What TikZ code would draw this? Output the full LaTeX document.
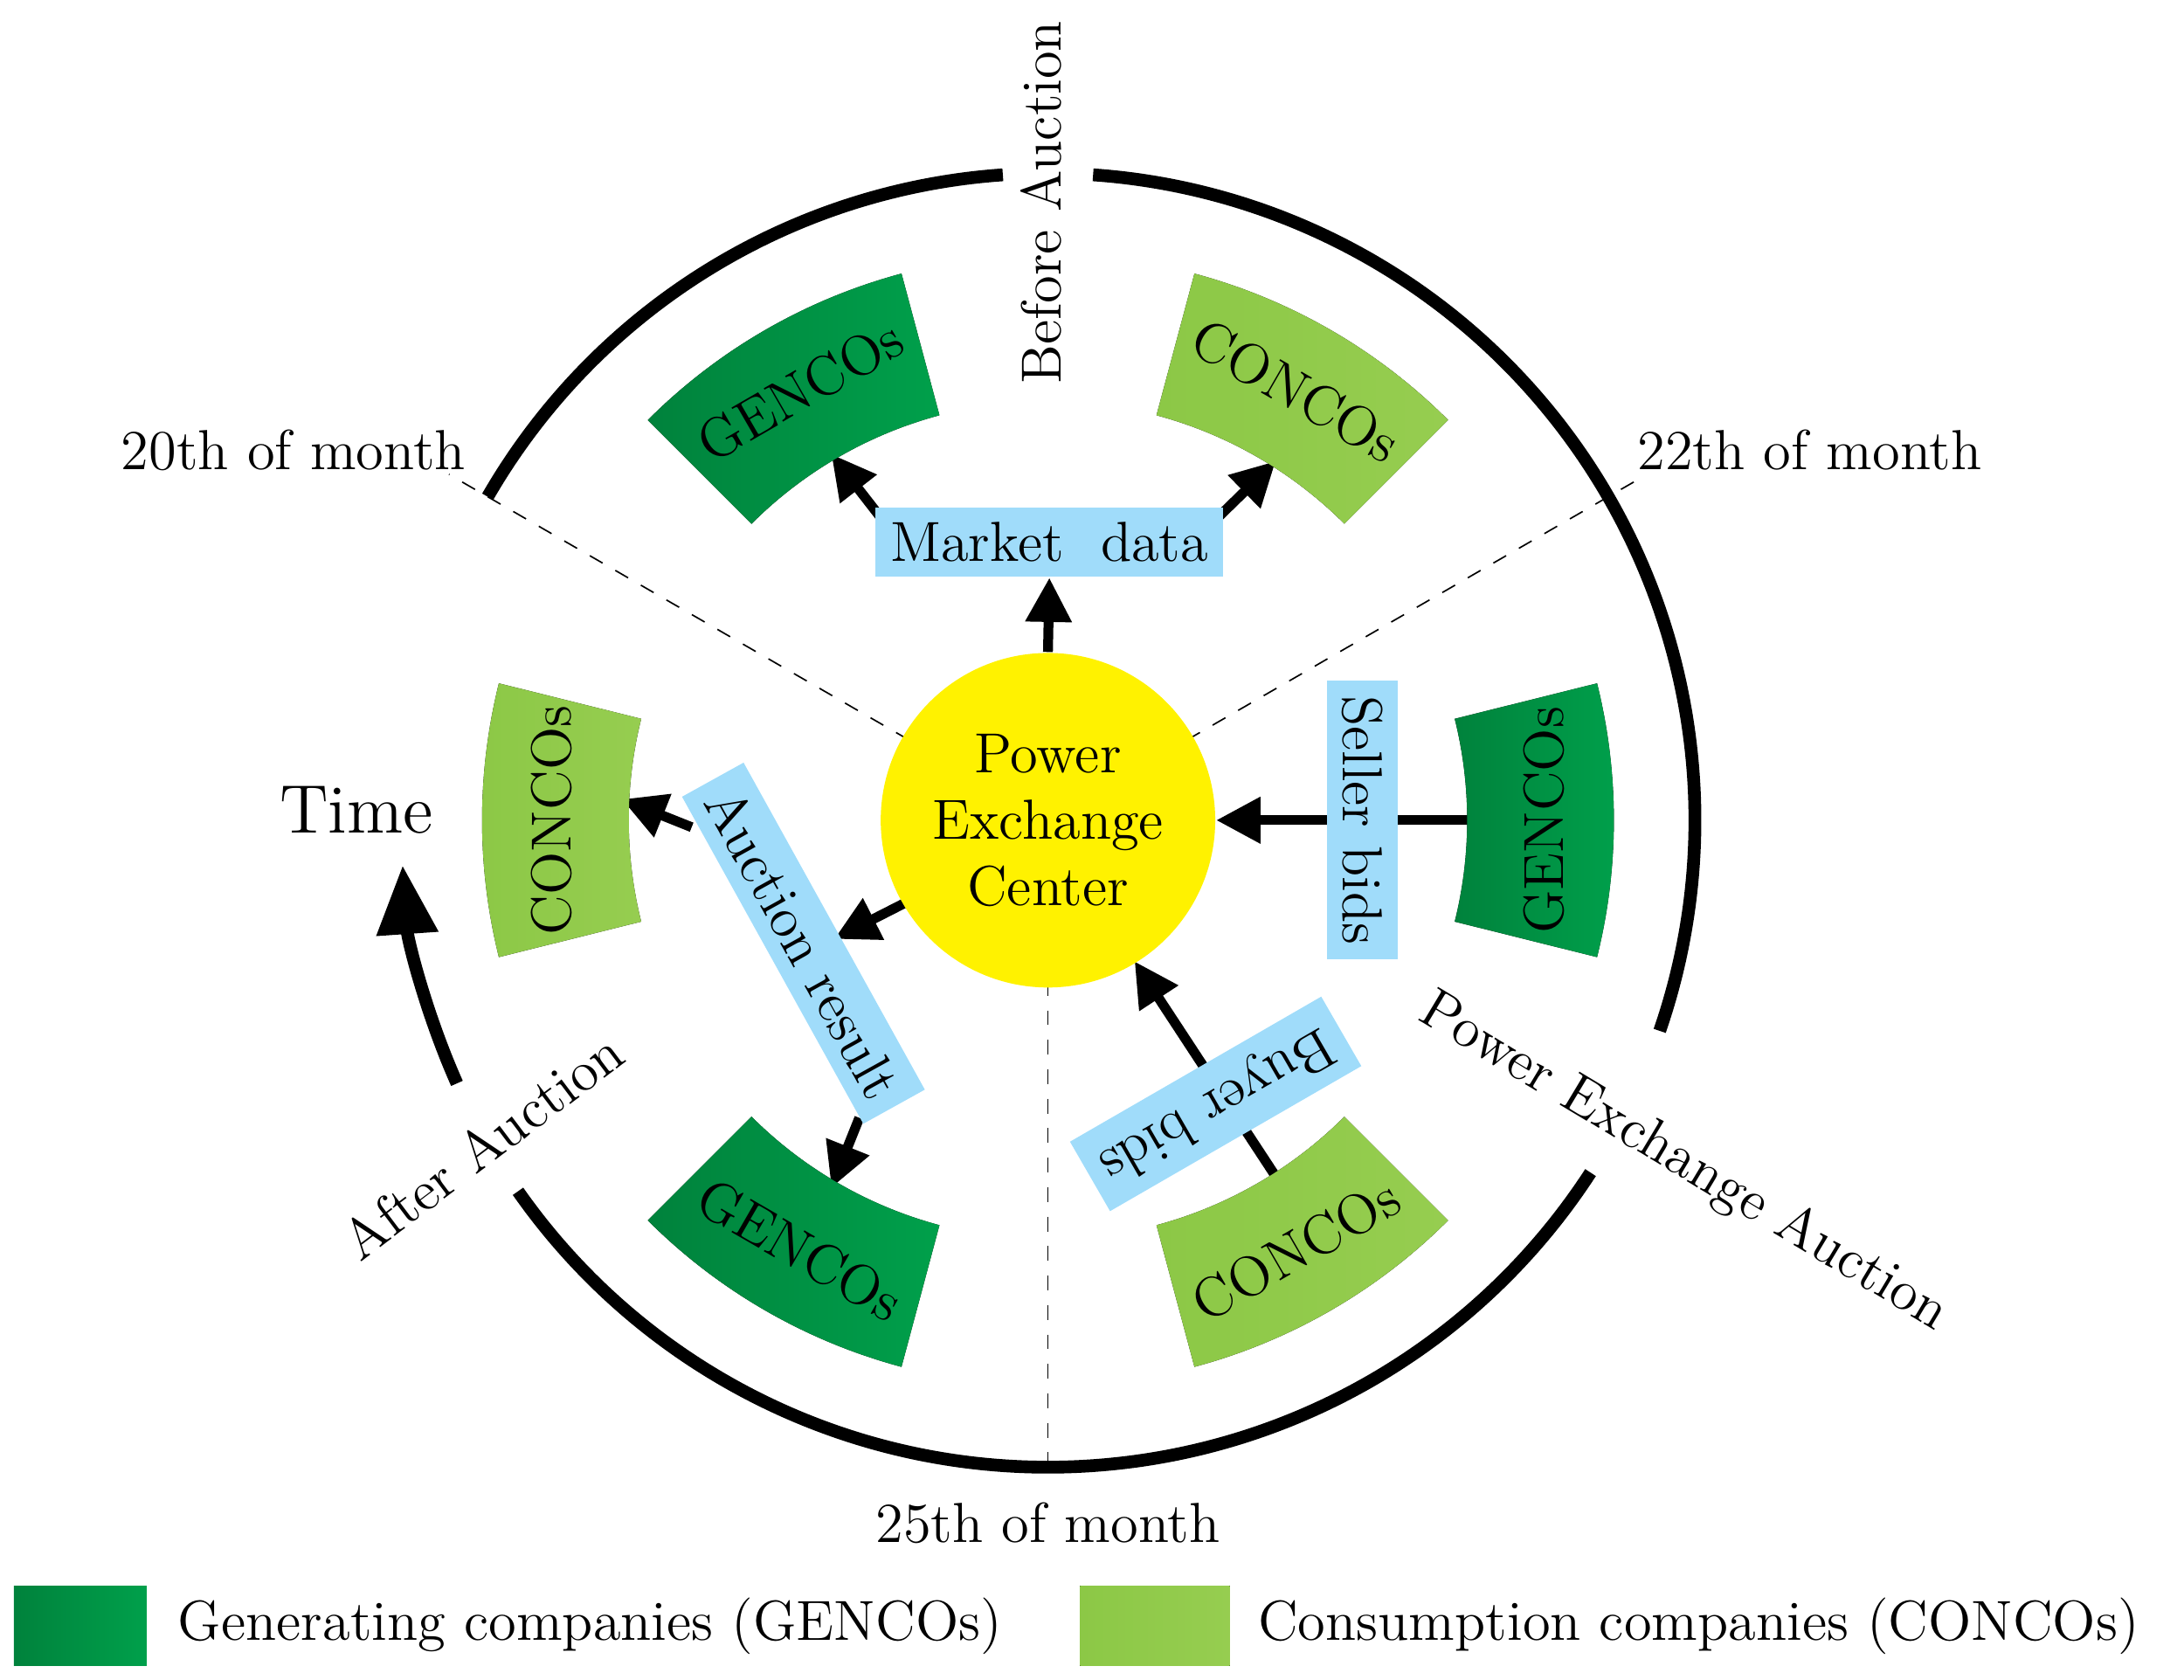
\documentclass[tikz,border=0pt]{standalone}
\usepackage{tikz}
\usetikzlibrary{positioning,arrows.meta,backgrounds}
\definecolor{gencol}{RGB}{0,160,75}
\definecolor{gendark}{RGB}{0,130,60}
\definecolor{concol}{RGB}{140,200,70}
\definecolor{conlight}{RGB}{150,205,80}
\definecolor{boxblue}{RGB}{160,220,250}
\tikzset{
  arr/.style={line width=2pt, -{Triangle[length=9pt,width=9pt]}},
  lbl/.style={font=\fontsize{11.5}{13.5}\selectfont},
  msg/.style={fill=boxblue, inner sep=3pt, font=\fontsize{11.5}{13.5}\selectfont},
  gen/.style={left color=gendark, right color=gencol},
  con/.style={left color=concol, right color=conlight},
  ring/.style={line width=2.6pt},
  divider/.style={dashed, line width=0.3pt},
}
% annular sector: style, angle, half width, rotation of text, text, name
\newcommand{\sect}[6]{
  \fill[#1] (#2-#3:3.0) arc[start angle=#2-#3, end angle=#2+#3, radius=3.0]
    -- (#2+#3:4.05) arc[start angle=#2+#3, end angle=#2-#3, radius=4.05] -- cycle;
  \node[lbl, rotate=#4] (#6) at (#2:3.55) {#5};
}
\begin{document}
\begin{tikzpicture}
\useasboundingbox (-7.50,-6.15) rectangle (8.13,5.87);
% outer ring
\draw[ring] (94:4.63) arc[start angle=94, end angle=150, radius=4.63];
\draw[ring] (215:4.63) arc[start angle=215, end angle=327, radius=4.63];
\draw[ring] (-19:4.63) arc[start angle=-19, end angle=86, radius=4.63];
\draw[line width=2.6pt, -{Triangle[length=14pt,width=12pt]}] (204:4.63) arc[start angle=204, end angle=184, radius=4.63];
% dashed dividers
\draw[divider] (150:1.15) -- (150:4.95);
\draw[divider] (30:1.15) -- (30:4.9);
\draw[divider] (270:1.15) -- (270:4.73);
% sectors
\sect{gen}{120}{15}{30}{GENCOs}{g1}
\sect{con}{60}{15}{-30}{CONCOs}{c1}
\sect{gen}{0}{14}{90}{GENCOs}{g2}
\sect{con}{300}{15}{30}{CONCOs}{c2}
\sect{gen}{240}{15}{-30}{GENCOs}{g3}
\sect{con}{180}{14}{90}{CONCOs}{c3}
% centre
\node[circle, fill=yellow, minimum size=2.3cm, align=center, lbl] (pec) at (0,0) {Power\\Exchange\\Center};
% messages
\node[msg] (mkt) at (0.01,1.99) {Market\ \ data};
\node[msg, rotate=-90] (sel) at (2.25,0) {Seller bids};
\node[msg, rotate=210] (buy) at (1.20,-2.03) {Buyer bids};
\node[msg, rotate=-61] (auc) at (-1.75,-0.88) {Auction result};
% arrow ends
\coordinate (m1) at (-1.20,2.17);
\coordinate (m2) at (1.22,2.17);
\coordinate (t1) at (-1.55,2.62);
\coordinate (t2) at (1.63,2.57);
\coordinate (s1) at (3.07,0);
\coordinate (b1) at (1.65,-2.58);
\coordinate (b2) at (0.62,-1.01);
\coordinate (a0) at (-1.0,-0.58);
\coordinate (a1) at (-1.53,-0.85);
\coordinate (a2) at (-2.55,-0.05);
\coordinate (a3) at (-3.05,0.15);
\coordinate (a4) at (-1.35,-2.13);
\coordinate (a5) at (-1.55,-2.63);
\begin{pgfonlayer}{background}
\draw[arr] (pec.north) -- (mkt.south);
\draw[arr] (m1) -- (t1);
\draw[arr] (m2) -- (t2);
\draw[arr] (s1) -- (pec.east);
\draw[arr] (b1) -- (b2);
\draw[arr] (a0) -- (a1);
\draw[arr] (a2) -- (a3);
\draw[arr] (a4) -- (a5);
\end{pgfonlayer}
% phase labels
\node[lbl] (d20) at (-5.40,2.65) {20th of month};
\node[lbl] (d22) at (5.45,2.65) {22th of month};
\node[lbl] (d25) at (0,-5.03) {25th of month};
\node[lbl, rotate=90] (bef) at (-0.05,4.42) {Before Auction};
\node[lbl, rotate=-31] (pea) at (4.55,-2.45) {Power Exchange Auction};
\node[lbl, rotate=37] (aft) at (-4.05,-2.33) {After Auction};
\node[font=\fontsize{14}{16}\selectfont] (time) at (-4.95,0.07) {Time};
% legend
\fill[gen] (-7.40,-5.48) rectangle (-6.45,-6.05);
\fill[con] (0.23,-5.48) rectangle (1.30,-6.05);
\node[lbl, anchor=west] (lg) at (-6.35,-5.77) {Generating companies (GENCOs)};
\node[lbl, anchor=west] (lc) at (1.38,-5.77) {Consumption companies (CONCOs)};
\end{tikzpicture}
\end{document}
